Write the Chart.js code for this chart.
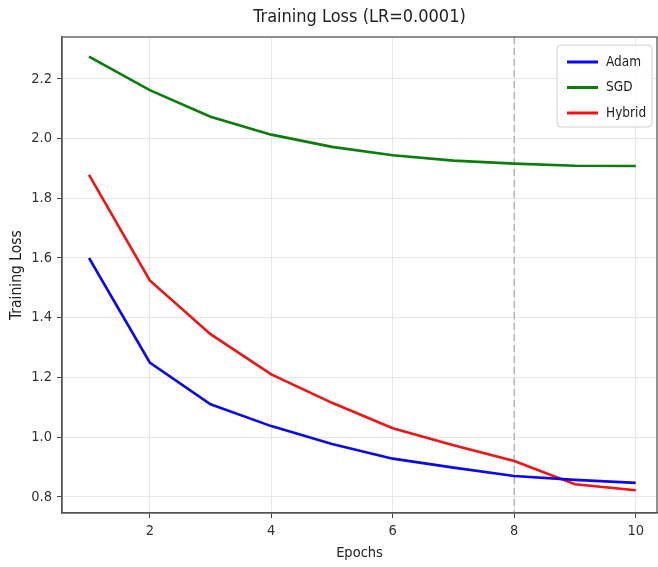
<!DOCTYPE html>
<html>
<head>
<meta charset="utf-8">
<script src="https://cdn.jsdelivr.net/npm/chart.js@4/dist/chart.umd.min.js"></script>
<style>
  html, body { margin: 0; padding: 0; background: #fff; }
  #wrap { width: 658px; height: 567px; }
</style>
</head>
<body>
<div id="wrap"><canvas id="c" width="658" height="567"></canvas></div>
<script>
const epochs = [1, 2, 3, 4, 5, 6, 7, 8, 9, 10];
const adamLoss = [1.60, 1.25, 1.11, 1.037, 0.977, 0.928, 0.898, 0.870, 0.857, 0.847];
const sgdLoss = [2.274, 2.162, 2.073, 2.013, 1.972, 1.944, 1.926, 1.916, 1.909, 1.908];
const hybridLoss = [1.878, 1.525, 1.345, 1.21, 1.115, 1.03, 0.973, 0.92, 0.842, 0.822];
const seriesNames = ['Adam', 'SGD', 'Hybrid'];
const chartTitle = 'Training Loss (LR=0.0001)';
const markerEpoch = 8;

const FONT = "'DejaVu Sans Condensed', 'DejaVu Sans', sans-serif";

function pts(ys) { return epochs.map((x, i) => ({ x: x, y: ys[i] })); }

const frame = {
  id: 'frame',
  beforeDatasetsDraw(chart) {
    const { ctx, chartArea: a, scales } = chart;
    const px = scales.x.getPixelForValue(markerEpoch);
    ctx.save();
    ctx.strokeStyle = '#b5b5b5';
    ctx.lineWidth = 1.5;
    ctx.setLineDash([7, 4]);
    ctx.beginPath();
    ctx.moveTo(px, a.top);
    ctx.lineTo(px, a.bottom);
    ctx.stroke();
    ctx.restore();
  },
  afterDraw(chart) {
    const { ctx, chartArea: a } = chart;
    ctx.save();
    // title centred over the plot area
    ctx.font = '18px ' + FONT;
    ctx.fillStyle = '#222';
    ctx.textAlign = 'center';
    ctx.textBaseline = 'middle';
    ctx.fillText(chartTitle, (a.left + a.right) / 2, 17);
    // frame
    ctx.strokeStyle = '#555';
    ctx.lineWidth = 1.3;
    ctx.strokeRect(a.left, a.top, a.right - a.left, a.bottom - a.top);
    // legend
    const bx = a.right - 100, by = a.top + 8, bw = 95, bh = 82;
    ctx.fillStyle = 'rgba(255,255,255,0.85)';
    ctx.strokeStyle = '#d0d0d0';
    ctx.lineWidth = 1;
    ctx.beginPath();
    ctx.roundRect(bx, by, bw, bh, 4);
    ctx.fill();
    ctx.stroke();
    ctx.font = '13.5px ' + FONT;
    ctx.textBaseline = 'middle';
    ctx.textAlign = 'left';
    chart.data.datasets.forEach((ds, i) => {
      const y = by + 17 + i * 25.5;
      ctx.strokeStyle = ds.borderColor;
      ctx.lineWidth = 3;
      ctx.beginPath();
      ctx.moveTo(bx + 10, y);
      ctx.lineTo(bx + 41, y);
      ctx.stroke();
      ctx.fillStyle = '#222';
      ctx.fillText(ds.label, bx + 49, y);
    });
    ctx.restore();
  }
};

new Chart(document.getElementById('c'), {
  type: 'line',
  data: {
    datasets: [
      { label: seriesNames[0], data: pts(adamLoss), borderColor: '#0a0af0', borderWidth: 2.6, pointRadius: 0, tension: 0 },
      { label: seriesNames[1], data: pts(sgdLoss), borderColor: '#0a7d0a', borderWidth: 2.6, pointRadius: 0, tension: 0 },
      { label: seriesNames[2], data: pts(hybridLoss), borderColor: '#f01414', borderWidth: 2.6, pointRadius: 0, tension: 0 }
    ]
  },
  options: {
    responsive: false,
    animation: false,
    layout: { padding: { left: 0, right: 1, top: 37, bottom: 0 } },
    plugins: {
      legend: { display: false },
      tooltip: { enabled: false },
      title: { display: false }
    },
    scales: {
      x: {
        type: 'linear',
        min: 0.555,
        max: 10.35,
        ticks: {
          stepSize: 2,
          includeBounds: false,
          color: '#333',
          font: { family: FONT, size: 14.5 },
          padding: 5,
          callback: v => String(v)
        },
        grid: { color: '#e8e8e8', lineWidth: 1, tickColor: '#444', tickLength: 5 },
        border: { color: '#555', width: 1.3 },
        title: {
          display: true, text: 'Epochs', color: '#222',
          font: { family: FONT, size: 14.5 },
          padding: { top: 2, bottom: 5.3 }
        },
        afterFit: s => { s.height = 54; }
      },
      y: {
        type: 'linear',
        min: 0.746,
        max: 2.34,
        ticks: {
          stepSize: 0.2,
          includeBounds: false,
          color: '#333',
          font: { family: FONT, size: 14.5 },
          padding: 5,
          callback: v => Number(v).toFixed(1)
        },
        grid: { color: '#e8e8e8', lineWidth: 1, tickColor: '#444', tickLength: 5 },
        border: { color: '#555', width: 1.3 },
        title: {
          display: true, text: 'Training Loss', color: '#222',
          font: { family: FONT, size: 15.5 },
          padding: { top: 7.5, bottom: 2 }
        },
        afterFit: s => { s.width = 62; }
      }
    }
  },
  plugins: [frame]
});
</script>
</body>
</html>
